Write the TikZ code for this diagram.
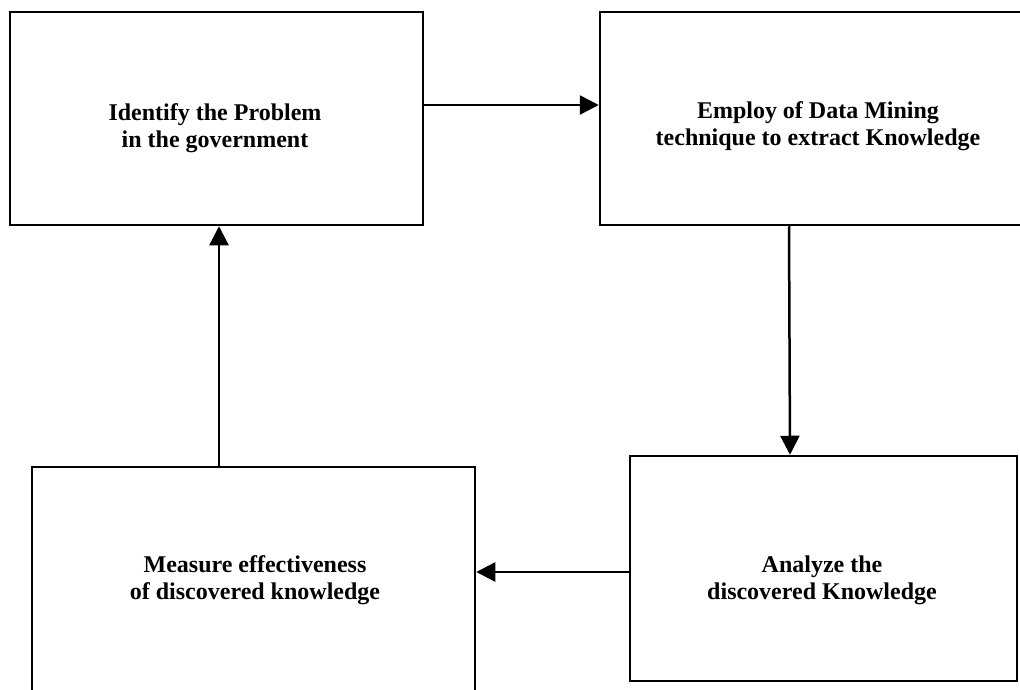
\documentclass[tikz,border=0pt]{standalone}
\usepackage{fontspec}
\setmainfont{Liberation Serif}
\usetikzlibrary{arrows.meta}
\tikzset{
  box/.style={draw=black, line width=2.5pt, fill=white, inner sep=0pt},
  txt/.style={align=center, anchor=base, inner sep=0pt, font=\fontsize{24}{27}\selectfont\bfseries},
  arr/.style={draw=black, line width=2.5pt, -{Triangle[length=19pt,width=19pt]}}
}
\begin{document}
\begin{tikzpicture}[x=1pt,y=-1pt]
\useasboundingbox (0,0) rectangle (1020,690);
\clip (0,0) rectangle (1020,690);
\node[box, minimum width=413pt, minimum height=213pt] (B1) at (216.5,118.5) {};
\node[box, minimum width=434pt, minimum height=213pt] (B2) at (817,118.5) {};
\node[box, minimum width=387pt, minimum height=225pt] (B3) at (823.5,568.5) {};
\node[box, minimum width=443pt, minimum height=240pt] (B4) at (253.5,587) {};
\node[txt] (t1) at (215,148) {Identify the Problem\\in the government};
\node[txt] (t2) at (818,146) {Employ of Data Mining\\technique to extract Knowledge};
\node[txt] (t3) at (822,599) {Analyze the\\discovered Knowledge};
\node[txt] (t4) at (255,599) {Measure effectiveness\\of discovered knowledge};
\draw[arr] (B1.east |- 0,105) -- (B2.west |- 0,105);
\draw[arr] (B2.south -| 789,0) -- (B3.north -| 790,0);
\draw[arr] (B3.west |- 0,572) -- (B4.east |- 0,572);
\draw[arr] (B4.north -| 219,0) -- (B1.south -| 219,0);
\end{tikzpicture}
\end{document}
